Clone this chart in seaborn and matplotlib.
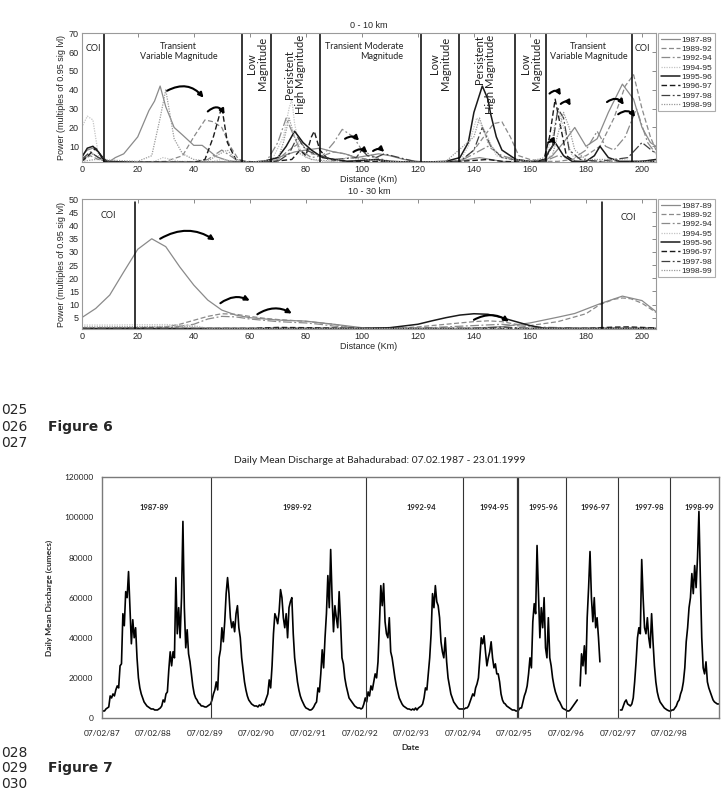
import numpy as np
import pandas as pd
import matplotlib
matplotlib.use("Agg")
import matplotlib.pyplot as plt
import matplotlib.dates as mdates
from matplotlib.ticker import FuncFormatter
import seaborn as sns

nan = np.nan

# ---------------- Figure 6 : wavelet power, 0 - 10 km ----------------
periods = ["1987-89", "1989-92", "1992-94", "1994-95",
           "1995-96", "1996-97", "1997-98", "1998-99"]

a_8789_km = [0, 2, 4, 6, 8, 10, 12, 15, 20, 24, 26, 28, 30, 33, 36, 40, 43, 46, 48, 52,
             57, 60, 64, 68, 72, 76, 80, 85, 90, 94, 98, 102, 106, 110, 115, 120, 125, 130, 135, 138,
             142, 146, 150, 155, 160, 165, 168, 172, 176, 180, 184, 188, 193, 197, 200, 203, 205]
a_8789_pw = [5, 8, 9, 7, 3, 2, 4, 6, 15, 29, 34, 42, 31, 20, 16, 10.5, 10.5, 7, 4.5, 2.5,
             1.5, 1.5, 2, 3, 5, 7, 8, 9, 7, 6, 4, 5, 6, 5, 3, 2, 1.5, 1.5, 2, 3,
             4, 3, 2, 1.5, 1.5, 2, 5, 12, 20, 10, 14, 28, 43, 35, 20, 12, 10]

a_8992_km = [0, 3, 6, 10, 20, 30, 36, 40, 44, 47, 50, 53, 56, 60, 70, 74, 78, 82, 86, 90,
             94, 98, 103, 108, 115, 120, 130, 136, 140, 144, 147, 150, 153, 156, 160, 165, 170, 175, 180, 185,
             190, 194, 197, 200, 203, 205]
a_8992_pw = [2, 5, 3, 1.5, 1.5, 2, 5, 15, 24, 23, 20, 10, 3, 1.5, 3, 8, 12, 6, 5, 7,
             6, 4, 3, 2, 1.5, 1.5, 1.5, 3, 8, 16, 22, 23, 15, 5, 3, 2, 2, 3, 5, 10,
             25, 42, 48, 30, 15, 8]

a_9294_km = [0, 4, 8, 20, 40, 45, 50, 55, 60, 66, 70, 73, 75, 78, 82, 86, 90, 93, 97, 100,
             105, 110, 120, 135, 140, 145, 150, 155, 160, 165, 170, 175, 180, 184, 187, 190, 194, 198, 202, 205]
a_9294_pw = [3, 6, 2, 1.5, 1.5, 3, 8, 3, 1.5, 2, 12, 25, 18, 8, 4, 5, 12, 19, 15, 8,
             4, 2, 1.5, 2, 6, 10, 5, 3, 2, 2, 5, 3, 8, 18, 10, 8, 15, 30, 12, 6]

a_9495_km = [0, 2, 4, 6, 8, 20, 26, 29, 32, 35, 38, 45, 50, 55, 60, 68, 72, 74, 75, 76,
             78, 80, 85, 120, 135, 138, 141, 144, 148, 155, 165, 168, 170, 172, 175, 180, 200, 205]
a_9495_pw = [20, 26, 24, 5, 2, 1.5, 2, 4, 3, 2, 2, 1.5, 3, 2, 1.5, 3, 15, 30, 35, 22,
             8, 4, 2, 1.5, 2, 10, 25, 18, 5, 2, 2, 15, 30, 20, 5, 2, 2, 3]

a_9596_km = [0, 2, 4, 6, 8, 20, 30, 40, 50, 60, 65, 70, 73, 76, 79, 82, 86, 95, 105, 110,
             120, 130, 135, 138, 140, 143, 145, 146, 148, 150, 155, 160, 165, 167, 169, 172, 175, 180, 183, 185,
             188, 192, 200, 205]
a_9596_pw = [4, 9, 10, 7, 2, 1.5, 1.5, 1.5, 1.5, 1.5, 2, 4, 10, 18, 12, 8, 4, 2, 3, 2,
             1.5, 2, 4, 12, 28, 42, 35, 27, 15, 8, 3, 2, 2, 8, 12, 5, 2, 2, 5, 10,
             4, 2, 2, 3]

a_9697_km = [0, 3, 5, 7, 9, 20, 40, 44, 47, 50, 52, 55, 58, 65, 75, 78, 80, 82, 83, 85,
             88, 95, 105, 120, 135, 145, 150, 160, 165, 167, 169, 171, 173, 176, 180, 190, 200, 205]
a_9697_pw = [2, 6, 9, 5, 2, 1.5, 1.5, 3, 15, 31, 12, 3, 2, 1.5, 3, 8, 5, 15, 18, 8,
             3, 2, 2, 1.5, 2, 3, 2, 1.5, 3, 15, 35, 20, 5, 2, 1.5, 1.5, 2, 2]

a_9798_km = [0, 3, 6, 10, 30, 40, 60, 70, 74, 77, 80, 85, 90, 98, 100, 102, 105, 108, 120, 135,
             140, 143, 146, 150, 160, 165, 168, 170, 172, 174, 178, 185, 195, 200, 205]
a_9798_pw = [3, 7, 4, 1.5, 1.5, 1.5, 1.5, 2, 6, 15, 8, 5, 3, 4, 8, 5, 4, 6, 1.5, 2,
             8, 20, 10, 4, 1.5, 2, 10, 30, 25, 8, 3, 2, 4, 12, 6]

a_9899_km = [0, 5, 20, 25, 28, 30, 33, 36, 40, 45, 48, 52, 55, 60, 70, 72, 74, 76, 78, 82,
             90, 95, 100, 110, 120, 130, 140, 142, 145, 150, 160, 168, 172, 174, 176, 180, 190, 200, 205]
a_9899_pw = [2, 3, 2, 5, 25, 40, 14, 6, 3, 2, 5, 8, 3, 1.5, 3, 12, 25, 15, 6, 3,
             2, 4, 3, 2, 1.5, 2, 15, 25, 12, 4, 2, 5, 28, 20, 8, 3, 3, 2, 2]

# ---------------- Figure 6 : wavelet power, 10 - 30 km ----------------
b_8789_km = [0, 5, 10, 15, 20, 25, 30, 35, 40, 45, 50, 55, 60, 70, 80, 90, 100, 110, 120, 130,
             140, 150, 160, 170, 176, 185, 193, 200, 205]
b_8789_pw = [5, 8.5, 13.6, 22.4, 31, 35, 32, 24.3, 17.4, 11.7, 7.9, 6, 5, 4.1, 3.7, 2.5, 1.2, 0.9, 0.9, 0.9,
             1, 1.6, 3, 5.2, 6.6, 10.3, 13.2, 11.5, 7.3]

b_8992_km = [0, 20, 30, 35, 40, 45, 50, 55, 60, 65, 70, 80, 90, 95, 100, 110, 120, 130, 140, 145,
             150, 155, 160, 170, 180, 185, 190, 193, 196, 200, 205]
b_8992_pw = [1, 1.2, 1.5, 2.5, 4, 5.5, 6.5, 6.3, 5.5, 4.8, 4.3, 3.6, 2.5, 1.5, 1, 0.9, 1.5, 2.5, 3.5, 3.8,
             3.5, 2.5, 2, 3.5, 6.5, 10, 12, 12.5, 12.2, 10.5, 7]

b_9294_km = [0, 30, 40, 45, 50, 55, 60, 70, 80, 85, 90, 100, 120, 140, 150, 160, 180, 190, 200, 205]
b_9294_pw = [1, 1, 2.5, 4.5, 5.5, 5.3, 4.5, 3.5, 3, 2.5, 1.8, 1, 1, 2, 2.5, 1.5, 1, 1, 1, 1]

b_9495_km = [0, 10, 20, 30, 40, 45, 50, 205]
b_9495_pw = [2.2, 2.2, 2.3, 2.4, 2, 1, 0.9, 0.9]

b_9596_km = [0, 60, 100, 110, 120, 125, 130, 135, 140, 145, 150, 155, 160, 165, 170, 205]
b_9596_pw = [0.9, 0.9, 0.9, 1.2, 2.5, 3.8, 5, 6, 6.5, 6.3, 5, 3.5, 2, 1, 0.9, 0.9]

b_9697_km = [0, 60, 70, 80, 100, 180, 185, 190, 195, 200, 205]
b_9697_pw = [0.9, 0.9, 1.3, 1.2, 0.9, 0.9, 1.2, 1.4, 1.5, 1.3, 1.1]

b_9798_km = [0, 100, 140, 150, 160, 205]
b_9798_pw = [0.9, 0.9, 1, 1.4, 1, 0.9]

b_9899_km = [0, 20, 35, 40, 45, 60, 205]
b_9899_pw = [1.5, 1.6, 1.8, 1.5, 1, 0.9, 0.9]

near_km = [a_8789_km, a_8992_km, a_9294_km, a_9495_km, a_9596_km, a_9697_km, a_9798_km, a_9899_km]
near_pw = [a_8789_pw, a_8992_pw, a_9294_pw, a_9495_pw, a_9596_pw, a_9697_pw, a_9798_pw, a_9899_pw]
far_km = [b_8789_km, b_8992_km, b_9294_km, b_9495_km, b_9596_km, b_9697_km, b_9798_km, b_9899_km]
far_pw = [b_8789_pw, b_8992_pw, b_9294_pw, b_9495_pw, b_9596_pw, b_9697_pw, b_9798_pw, b_9899_pw]

near_breaks = [8.1, 57.1, 67.7, 85.2, 121, 134.6, 154.6, 165.6, 196.3]
far_breaks = [19.2, 185.7]

# ---------------- Figure 7 : daily mean discharge (thousand cumecs, 10-day steps from 7 Feb) ----------------
hydro_years = [1987, 1988, 1989, 1990, 1991, 1992, 1993, 1994, 1995, 1996, 1997, 1998]
q1987 = [4, 3.5, 3.5, 4.5, 5, 5.5, 11, 10, 12, 11, 14, 16, 15, 26, 27, 52, 46, 63, 60, 73,
         55, 37, 49, 40, 45, 30, 20, 15, 12, 10, 8, 7, 6, 5.5, 5, 4.5]
q1988 = [4.5, 4, 4, 4, 4.5, 5, 6, 9, 8, 12, 13, 24, 33, 26, 33, 30, 70, 42, 55, 40,
         60, 98, 55, 35, 44, 32, 28, 22, 16, 12, 10, 9, 7.5, 7, 6, 6]
q1989 = [5.5, 5.5, 6, 6.5, 7, 9, 12, 14, 18, 14, 30, 34, 45, 38, 48, 62, 70, 62, 50, 45,
         48, 43, 52, 56, 45, 40, 30, 24, 18, 14, 11, 9, 8, 7, 6.5, 6]
q1990 = [6, 5.5, 6.5, 6, 7, 6.5, 8, 10, 12, 19, 15, 26, 42, 52, 50, 47, 53, 64, 60, 50,
         45, 52, 40, 55, 58, 60, 42, 30, 24, 18, 14, 11, 9, 7.5, 6, 5]
q1991 = [4.5, 4, 4, 4.5, 5.5, 7, 8, 15, 13, 22, 34, 25, 40, 52, 71, 55, 84, 60, 43, 56,
         50, 45, 63, 48, 30, 27, 20, 16, 13, 10, 9, 8, 7, 6, 5.5, 5]
q1992 = [5, 4.5, 5, 7, 10, 8, 13, 11, 16, 14, 18, 22, 20, 28, 46, 66, 56, 67, 48, 42,
         40, 50, 33, 30, 25, 20, 16, 13, 10, 8.5, 7, 6, 5.5, 5, 4.5, 4.5]
q1993 = [4, 4.5, 4, 5, 4, 5, 5.5, 6, 7, 10, 15, 14, 22, 30, 42, 62, 55, 66, 58, 56,
         50, 38, 33, 30, 40, 28, 20, 16, 12, 10, 8, 7, 6, 5, 4.5, 4.5]
q1994 = [4.5, 4.5, 5, 5, 6, 8, 10, 12, 11, 15, 17, 20, 30, 40, 37, 41, 33, 26, 30, 33,
         38, 30, 25, 27, 22, 22, 18, 12, 9, 7.5, 7, 6, 5.5, 5, 4.5, 4]
q1995 = [4, 3.5, 3.5, 4, 5, 5, 8, 11, 13, 16, 22, 30, 25, 48, 57, 52, 86, 62, 40, 55,
         45, 60, 35, 30, 50, 30, 26, 20, 16, 13, 11, 9, 8, 6.5, 5, 4.5]
q1996 = [4, 3.5, 3.5, 4, 5, 6, 7, 8, 9, nan, 16, 32, 26, 36, 22, 50, 65, 83, 60, 48,
         60, 45, 50, 40, 28, nan, nan, nan, nan, nan, nan, nan, nan, nan, nan, nan]
q1997 = [nan, nan, 4, 4, 6, 8, 9, 7, 6.5, 6, 7, 10, 18, 28, 40, 45, 42, 79, 60, 45,
         42, 50, 40, 35, 52, 38, 26, 18, 13, 10, 8, 7, 6, 5, 4.5, 4]
q1998 = [3.5, 3.5, 4, 4, 5, 6, 8, 9, 12, 14, 18, 25, 38, 45, 55, 60, 72, 62, 76, 65,
         80, 103, 70, 40, 25, 22, 28, 18, 15, 13, 11, 9, 8, 7.5, 7, 7]
flows = [q1987, q1988, q1989, q1990, q1991, q1992, q1993, q1994, q1995, q1996, q1997, q1998]

period_breaks = ["1989-03-20", "1992-03-20", "1994-02-07", "1995-03-01",
                 "1996-02-10", "1997-02-07", "1998-02-14"]
period_label_dates = ["1988-02-12", "1990-11-20", "1993-04-20", "1994-09-20",
                      "1995-09-01", "1996-09-05", "1997-09-20", "1998-09-10"]
q_ticks = [0, 20000, 40000, 60000, 80000, 100000, 120000]

# ---------------- styling ----------------
line_colors = ["#8a8a8a", "#8a8a8a", "#8a8a8a", "#c4c4c4", "#1a1a1a", "#1a1a1a", "#404040", "#9a9a9a"]
line_styles = ["-", (0, (4, 2)), (0, (7, 2, 1.5, 2)), (0, (1, 1)),
               "-", (0, (4, 2)), (0, (7, 2, 1.5, 2)), (0, (1, 1))]
line_widths = [0.9, 0.9, 0.9, 0.9, 1.1, 1.0, 0.9, 0.9]

sns.set_style("white")
plt.rcParams["font.family"] = ["Liberation Sans", "DejaVu Sans"]

W, H = 728, 794
fig = plt.figure(figsize=(W / 100, H / 100), dpi=100)


def box(l, t, r, b):
    return [l / W, 1 - b / H, (r - l) / W, (b - t) / H]


def arrow(ax, x0, y0, x1, y1, rad):
    ax.annotate("", xy=(x1, y1), xytext=(x0, y0),
                arrowprops=dict(arrowstyle="-|>", color="black", lw=1.5, mutation_scale=7,
                                shrinkA=0, shrinkB=0, connectionstyle=f"arc3,rad={rad}"))


def draw_panel(ax, kms, pws, ylim, yticks, title):
    for name, km, pw, c, ls, lw in zip(periods, kms, pws, line_colors, line_styles, line_widths):
        sns.lineplot(x=km, y=pw, color=c, linestyle=ls, lw=lw, label=name,
                     estimator=None, ax=ax)
    ax.set_xlim(0, 205)
    ax.set_ylim(*ylim)
    ax.set_xticks(range(0, 201, 20))
    ax.set_yticks(yticks)
    ax.tick_params(direction="in", top=True, right=True, length=3, width=0.6,
                   labelsize=6.5, color="#777777", pad=2)
    for s in ax.spines.values():
        s.set_color("#9a9a9a")
        s.set_linewidth(0.8)
    ax.set_title(title, fontsize=6.5, pad=4)
    ax.set_xlabel("Distance (Km)", fontsize=6.5, labelpad=1)
    ax.set_ylabel("Power (multiples of 0.95 sig lvl)", fontsize=6.5, labelpad=2)
    leg = ax.legend(loc="upper left", bbox_to_anchor=(1.004, 1.0), fontsize=6, frameon=True,
                    fancybox=False, edgecolor="#999999", handlelength=2.3, handletextpad=0.2,
                    labelspacing=0.18, borderpad=0.3, borderaxespad=0)
    leg.get_frame().set_linewidth(0.8)


# ---- top panel ----
ax1 = fig.add_axes(box(81.7, 33.3, 656, 162.3))
draw_panel(ax1, near_km, near_pw, (1.5, 70), range(10, 71, 10), "0 - 10 km")
for b in near_breaks:
    ax1.axvline(b, color="black", lw=1.1)
tf = dict(family=["Lato", "DejaVu Sans"], color="#222222", ha="center", va="center")
ax1.text(4.2, 62, "COI", fontsize=6.5, **tf)
ax1.text(34.5, 60.5, "Transient\nVariable Magnitude", fontsize=6.5, linespacing=1.1, **tf)
ax1.text(62.5, 54, "Low\nMagnitude", fontsize=8, rotation=90, linespacing=1.0, **tf)
ax1.text(76.2, 48, "Persistent\nHigh Magnitude", fontsize=8, rotation=90, linespacing=1.0, **tf)
ax1.text(100.7, 60.5, "Transient Moderate\nMagnitude", fontsize=6.5, linespacing=1.1,
         multialignment="right", **tf)
ax1.text(128, 54, "Low\nMagnitude", fontsize=8, rotation=90, linespacing=1.0, **tf)
ax1.text(144, 48, "Persistent\nHigh Magnitude", fontsize=8, rotation=90, linespacing=1.0,
         multialignment="right", **tf)
ax1.text(160.3, 54, "Low\nMagnitude", fontsize=8, rotation=90, linespacing=1.0, **tf)
ax1.text(181, 60.5, "Transient\nVariable Magnitude", fontsize=6.5, linespacing=1.1, **tf)
ax1.text(200.2, 62, "COI", fontsize=6.5, **tf)

arrow(ax1, 30.5, 39.5, 43.5, 35.8, -0.4)
arrow(ax1, 45, 28.5, 51, 27, -0.6)
arrow(ax1, 94, 14, 99, 13, -0.4)
arrow(ax1, 97, 7, 102, 6.5, -0.4)
arrow(ax1, 104, 7.5, 108, 7, -0.4)
arrow(ax1, 167, 38, 171, 37, -0.6)
arrow(ax1, 171, 32.5, 174.5, 31.5, -0.6)
arrow(ax1, 166.5, 12, 169, 11, -0.5)
arrow(ax1, 187.5, 33.5, 193.5, 32, -0.5)
arrow(ax1, 191.5, 27, 197.5, 25.5, -0.5)

# ---- middle panel ----
ax2 = fig.add_axes(box(81.7, 199.3, 656, 329))
draw_panel(ax2, far_km, far_pw, (0.7, 50), range(5, 51, 5), "10 - 30 km")
for b in far_breaks:
    ax2.axvline(b, ymax=0.98, color="black", lw=1.1)
ax2.text(9.5, 44, "COI", fontsize=6.5, **tf)
ax2.text(195.3, 43, "COI", fontsize=6.5, **tf)
arrow(ax2, 28, 35, 47.5, 34.4, -0.31)
arrow(ax2, 49.5, 10.5, 60, 11.5, -0.3)
arrow(ax2, 62.7, 6.3, 75, 6.6, -0.3)
arrow(ax2, 140, 4.2, 152.5, 3.5, -0.3)

# ---- Figure 7 : discharge ----
rows = []
for yr, vals in zip(hydro_years, flows):
    start = pd.Timestamp(f"{yr}-02-07")
    for i, v in enumerate(vals):
        rows.append((start + pd.Timedelta(days=10 * i), v * 1000))
flow = pd.DataFrame(rows, columns=["date", "q"])
flow["seg"] = flow["q"].isna().cumsum()
flow = flow.dropna()

ax3 = fig.add_axes(box(101.7, 477.3, 718.7, 718))
sns.lineplot(data=flow, x="date", y="q", units="seg", estimator=None,
             color="black", lw=1.2, legend=False, ax=ax3)
ax3.set_xlim(pd.Timestamp("1987-02-07"), pd.Timestamp("1999-01-23"))
ax3.set_ylim(0, 120000)
ax3.set_yticks(q_ticks)
ax3.yaxis.set_major_formatter(FuncFormatter(lambda v, p: f"{int(v)}"))
ax3.set_xticks(pd.to_datetime([f"{y}-02-07" for y in hydro_years]))
ax3.xaxis.set_major_formatter(mdates.DateFormatter("%d/%m/%y"))
ax3.tick_params(axis="both", length=0, labelsize=6, colors="#222222")
ax3.tick_params(axis="x", pad=9)
ax3.tick_params(axis="y", pad=6)
for lab in ax3.get_xticklabels() + ax3.get_yticklabels():
    lab.set_family(["Lato", "DejaVu Sans"])
for s in ax3.spines.values():
    s.set_color("#7a7a7a")
    s.set_linewidth(1.0)
for i, d in enumerate(period_breaks):
    ax3.axvline(pd.Timestamp(d), color="#333333", lw=1.6 if i == 3 else 0.8)
for lab, d in zip(periods, period_label_dates):
    ax3.text(pd.Timestamp(d), 105000, lab, fontsize=5.5, fontweight="bold",
             family=["Lato", "DejaVu Sans"], ha="center", va="center")
ax3.set_xlabel("Date", fontsize=6, fontweight="bold", family=["Lato", "DejaVu Sans"])
ax3.set_ylabel("Daily Mean Discharge (cumecs)", fontsize=6, fontweight="bold",
               family=["Lato", "DejaVu Sans"])
ax3.xaxis.set_label_coords(0.5, -0.108)
ax3.yaxis.set_label_coords(-0.079, 0.5)
fig.text(380 / W, 1 - 460 / H, "Daily Mean Discharge at Bahadurabad: 07.02.1987 - 23.01.1999",
         fontsize=7.4, family=["Lato", "DejaVu Sans"], ha="center", va="center", color="#222222")

# ---- page text around the figures (line numbers run off the left page edge) ----
page = dict(family="DejaVu Sans", fontsize=10, va="center", ha="left")
for num, y in [("025", 410), ("026", 426.7), ("027", 443.3),
               ("028", 752.7), ("029", 768.3), ("030", 784.3)]:
    fig.text(1 / W, 1 - y / H, num, **page)
fig.text(48 / W, 1 - 426.7 / H, "Figure 6", fontweight="bold", **page)
fig.text(48 / W, 1 - 768.3 / H, "Figure 7", fontweight="bold", **page)

fig.savefig("out.png", dpi=100, facecolor="white")
